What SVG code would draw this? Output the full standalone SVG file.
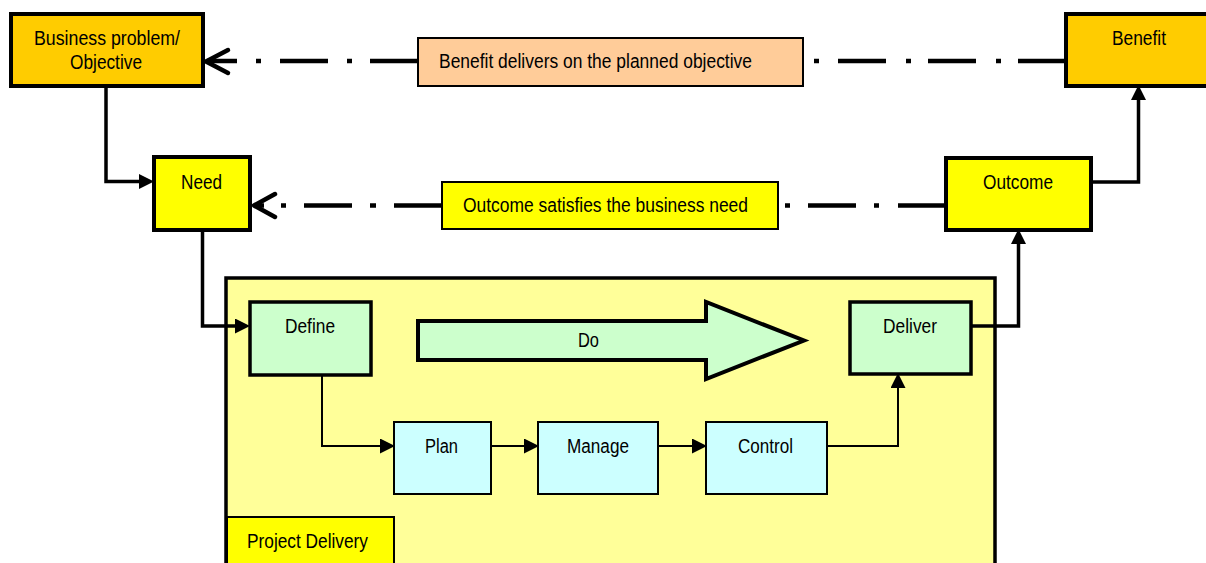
<svg xmlns="http://www.w3.org/2000/svg" width="1206" height="563" viewBox="0 0 1206 563">
  <defs>
    <marker id="tri" markerUnits="userSpaceOnUse" markerWidth="16" markerHeight="16" refX="4" refY="7.5" orient="auto">
      <path d="M0,0 L15,7.5 L0,15 z" fill="#000"/>
    </marker>
    <style>
      text { font-family: "Liberation Sans", Arial, sans-serif; font-size: 20px; fill: #000; text-anchor: middle; }
      .box { stroke: #000; stroke-width: 4; }
      .thin { stroke: #000; stroke-width: 2; }
      .orange { fill: #FFCC00; }
      .yellow { fill: #FFFF00; }
      .peach { fill: #FFCC99; }
      .green { fill: #CCFFCC; }
      .cyan { fill: #CCFFFF; }
      .pale { fill: #FFFF99; }
      .link { fill: none; stroke: #000; stroke-width: 3.5; }
      .link-thin { fill: none; stroke: #000; stroke-width: 2; }
      .dashdot { fill: none; stroke: #000; stroke-width: 4.5; }
      .openhead { fill: none; stroke: #000; stroke-width: 4.5; stroke-linecap: round; stroke-linejoin: round; }
    </style>
  </defs>

  <!-- Project delivery container -->
  <g id="project-delivery">
    <rect x="226" y="278" width="769" height="300" class="pale" stroke="#000" stroke-width="3.5"/>
    <rect x="227" y="517" width="167" height="60" class="yellow thin"/>
    <text x="307.5" y="548" textLength="121" lengthAdjust="spacingAndGlyphs">Project Delivery</text>
  </g>

  <g id="business-problem">
    <rect x="11" y="14" width="192" height="72" class="box orange"/>
    <text x="107" y="45" textLength="146" lengthAdjust="spacingAndGlyphs">Business problem/</text>
    <text x="106" y="69" textLength="72" lengthAdjust="spacingAndGlyphs">Objective</text>
  </g>

  <g id="benefit">
    <rect x="1066" y="14" width="148" height="72" class="box orange"/>
    <text x="1139" y="45" textLength="54" lengthAdjust="spacingAndGlyphs">Benefit</text>
  </g>

  <g id="need">
    <rect x="154" y="157" width="96" height="73" class="box yellow"/>
    <text x="201.5" y="189" textLength="41" lengthAdjust="spacingAndGlyphs">Need</text>
  </g>

  <g id="outcome">
    <rect x="946" y="158" width="145" height="72" class="box yellow"/>
    <text x="1018" y="189" textLength="70" lengthAdjust="spacingAndGlyphs">Outcome</text>
  </g>

  <g id="benefit-label">
    <rect x="418" y="38" width="385" height="48" class="peach thin"/>
    <text x="595.5" y="68" textLength="313" lengthAdjust="spacingAndGlyphs">Benefit delivers on the planned objective</text>
  </g>

  <g id="outcome-label">
    <rect x="442" y="182" width="336" height="47" class="yellow thin"/>
    <text x="605.5" y="212" textLength="285" lengthAdjust="spacingAndGlyphs">Outcome satisfies the business need</text>
  </g>

  <g id="define">
    <rect x="250" y="302" width="121" height="73" class="green" stroke="#000" stroke-width="3.5"/>
    <text x="310" y="333" textLength="50" lengthAdjust="spacingAndGlyphs">Define</text>
  </g>

  <g id="do">
    <path d="M418,321 H706 V302 L804,340.5 L706,379 V360 H418 Z" class="green" stroke="#000" stroke-width="4" stroke-linejoin="miter"/>
    <text x="588.5" y="347" textLength="21" lengthAdjust="spacingAndGlyphs">Do</text>
  </g>

  <g id="deliver">
    <rect x="850" y="302" width="121" height="72" class="green" stroke="#000" stroke-width="3.5"/>
    <text x="910" y="333" textLength="54" lengthAdjust="spacingAndGlyphs">Deliver</text>
  </g>

  <g id="plan">
    <rect x="394" y="422" width="97" height="72" class="cyan thin"/>
    <text x="441.5" y="453" textLength="33" lengthAdjust="spacingAndGlyphs">Plan</text>
  </g>

  <g id="manage">
    <rect x="538" y="422" width="120" height="72" class="cyan thin"/>
    <text x="598" y="453" textLength="62" lengthAdjust="spacingAndGlyphs">Manage</text>
  </g>

  <g id="control">
    <rect x="706" y="422" width="121" height="72" class="cyan thin"/>
    <text x="765.5" y="453" textLength="55" lengthAdjust="spacingAndGlyphs">Control</text>
  </g>

  <g id="connectors">
    <!-- solid flow links -->
    <path d="M106,86 V181.5 H143" class="link" marker-end="url(#tri)"/>
    <path d="M202.5,230 V326 H239" class="link" marker-end="url(#tri)"/>
    <path d="M971,326 H1018.5 V240" class="link" marker-end="url(#tri)"/>
    <path d="M1091,182 H1138.5 V96" class="link" marker-end="url(#tri)"/>
    <path d="M322,375 V446 H384" class="link-thin" marker-end="url(#tri)"/>
    <path d="M491,446 H528" class="link-thin" marker-end="url(#tri)"/>
    <path d="M658,446 H696" class="link-thin" marker-end="url(#tri)"/>
    <path d="M827,446 H898 V384" class="link-thin" marker-end="url(#tri)"/>

    <!-- dash-dot feedback: benefit back to objective -->
    <path d="M207,61 H237 M256,61 H261 M280,61 H328 M347,61 H352 M370,61 H418 M814,61 H819 M838,61 H886 M906,61 H911 M928,61 H976 M996,61 H1001 M1018,61 H1066" class="dashdot"/>
    <path d="M228,50 L206,61.5 L228,73" class="openhead"/>

    <!-- dash-dot feedback: outcome back to need -->
    <path d="M255,205.5 H264 M281,205.5 H286 M304,205.5 H352 M370,205.5 H376 M394,205.5 H442 M785,205.5 H790 M808,205.5 H856 M874,205.5 H879 M898,205.5 H946" class="dashdot"/>
    <path d="M275,194 L254,205.5 L275,217" class="openhead"/>
  </g>
</svg>
